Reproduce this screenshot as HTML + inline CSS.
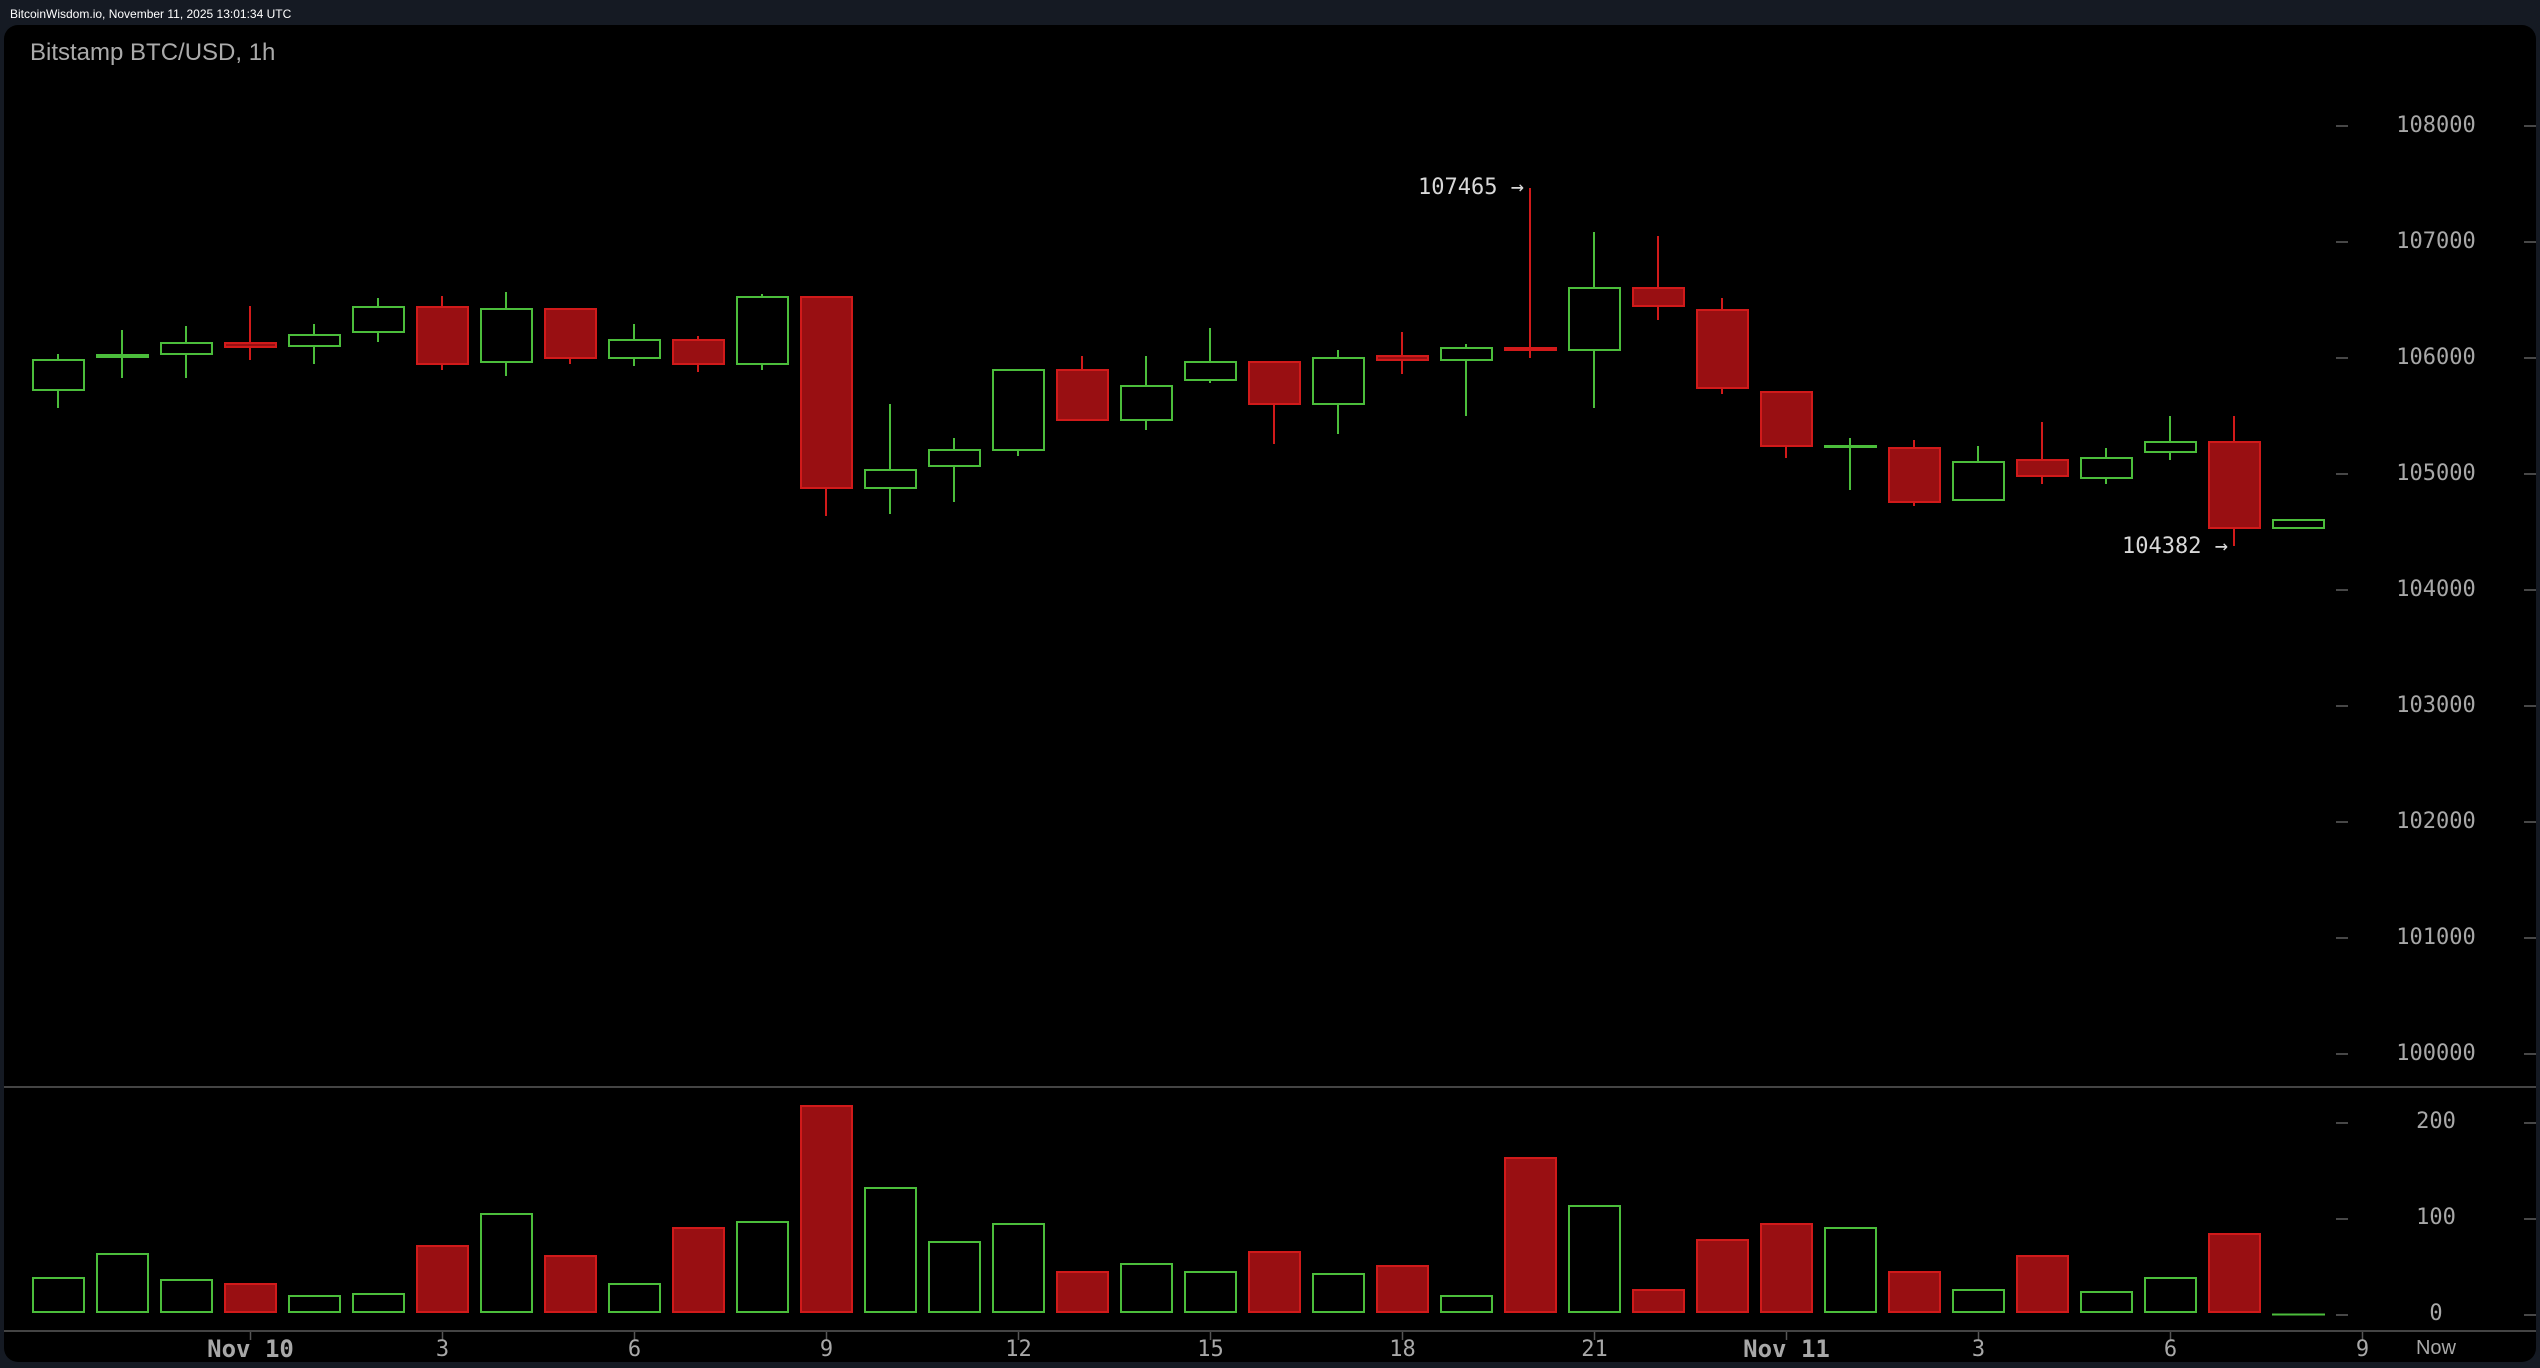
<!DOCTYPE html>
<html><head><meta charset="utf-8"><style>
html,body{margin:0;padding:0;background:#151a23;}
svg{display:block;}
.g{stroke:#4bbd3b;fill:#000;stroke-width:2}
.r{stroke:#d11a1a;fill:#990f12;stroke-width:2}
.gw{stroke:#4bbd3b;stroke-width:2}
.rw{stroke:#d11a1a;stroke-width:2}
.ax{font-family:"DejaVu Sans Mono","Liberation Mono",monospace;font-size:22px;fill:#a8a8a8;text-anchor:middle}
.dt{font-family:"DejaVu Sans Mono","Liberation Mono",monospace;font-size:24px;font-weight:bold;fill:#a8a8a8;text-anchor:middle}
.an{font-family:"DejaVu Sans Mono","Liberation Mono",monospace;font-size:22px;fill:#d8d8d8;text-anchor:end}
.tk{stroke:#474747;stroke-width:2}
</style></head><body>
<svg width="2540" height="1368" viewBox="0 0 2540 1368" xmlns="http://www.w3.org/2000/svg">
<rect x="0" y="0" width="2540" height="1368" fill="#151a23"/>
<text x="10" y="18" font-family="Liberation Sans, Arial, sans-serif" font-size="12" fill="#ffffff">BitcoinWisdom.io, November 11, 2025 13:01:34 UTC</text>
<rect x="4" y="25" width="2532" height="1337" rx="14" ry="14" fill="#000"/>
<text x="30" y="60" font-family="Liberation Sans, Arial, sans-serif" font-size="24" fill="#aaaaaa">Bitstamp BTC/USD, 1h</text>

<!-- price axis ticks -->
<g class="tk">
<line x1="2336" x2="2348" y1="126" y2="126"/><line x1="2524" x2="2536" y1="126" y2="126"/>
<line x1="2336" x2="2348" y1="242" y2="242"/><line x1="2524" x2="2536" y1="242" y2="242"/>
<line x1="2336" x2="2348" y1="358" y2="358"/><line x1="2524" x2="2536" y1="358" y2="358"/>
<line x1="2336" x2="2348" y1="474" y2="474"/><line x1="2524" x2="2536" y1="474" y2="474"/>
<line x1="2336" x2="2348" y1="590" y2="590"/><line x1="2524" x2="2536" y1="590" y2="590"/>
<line x1="2336" x2="2348" y1="706" y2="706"/><line x1="2524" x2="2536" y1="706" y2="706"/>
<line x1="2336" x2="2348" y1="822" y2="822"/><line x1="2524" x2="2536" y1="822" y2="822"/>
<line x1="2336" x2="2348" y1="938" y2="938"/><line x1="2524" x2="2536" y1="938" y2="938"/>
<line x1="2336" x2="2348" y1="1054" y2="1054"/><line x1="2524" x2="2536" y1="1054" y2="1054"/>
<line x1="2336" x2="2348" y1="1123" y2="1123"/><line x1="2524" x2="2536" y1="1123" y2="1123"/>
<line x1="2336" x2="2348" y1="1219" y2="1219"/><line x1="2524" x2="2536" y1="1219" y2="1219"/>
<line x1="2336" x2="2348" y1="1315" y2="1315"/><line x1="2524" x2="2536" y1="1315" y2="1315"/>
</g>
<text class="ax" x="2436" y="132">108000</text>
<text class="ax" x="2436" y="248">107000</text>
<text class="ax" x="2436" y="364">106000</text>
<text class="ax" x="2436" y="480">105000</text>
<text class="ax" x="2436" y="596">104000</text>
<text class="ax" x="2436" y="712">103000</text>
<text class="ax" x="2436" y="828">102000</text>
<text class="ax" x="2436" y="944">101000</text>
<text class="ax" x="2436" y="1060">100000</text>
<text class="ax" x="2436" y="1128">200</text>
<text class="ax" x="2436" y="1224">100</text>
<text class="ax" x="2436" y="1320">0</text>

<!-- separators -->
<line x1="4" x2="2536" y1="1087" y2="1087" stroke="#444" stroke-width="2"/>
<line x1="4" x2="2536" y1="1331" y2="1331" stroke="#444" stroke-width="2"/>

<!-- x ticks -->
<g stroke="#555" stroke-width="1.5">
<line x1="250.5" x2="250.5" y1="1332" y2="1340"/>
<line x1="442.5" x2="442.5" y1="1332" y2="1340"/>
<line x1="634.5" x2="634.5" y1="1332" y2="1340"/>
<line x1="826.5" x2="826.5" y1="1332" y2="1340"/>
<line x1="1018.5" x2="1018.5" y1="1332" y2="1340"/>
<line x1="1210.5" x2="1210.5" y1="1332" y2="1340"/>
<line x1="1402.5" x2="1402.5" y1="1332" y2="1340"/>
<line x1="1594.5" x2="1594.5" y1="1332" y2="1340"/>
<line x1="1786.5" x2="1786.5" y1="1332" y2="1340"/>
<line x1="1978.5" x2="1978.5" y1="1332" y2="1340"/>
<line x1="2170.5" x2="2170.5" y1="1332" y2="1340"/>
<line x1="2362.5" x2="2362.5" y1="1332" y2="1340"/>
</g>
<text class="dt" x="250.5" y="1357">Nov 10</text>
<text class="ax" x="442.5" y="1356">3</text>
<text class="ax" x="634.5" y="1356">6</text>
<text class="ax" x="826.5" y="1356">9</text>
<text class="ax" x="1018.5" y="1356">12</text>
<text class="ax" x="1210.5" y="1356">15</text>
<text class="ax" x="1402.5" y="1356">18</text>
<text class="ax" x="1594.5" y="1356">21</text>
<text class="dt" x="1786.5" y="1357">Nov 11</text>
<text class="ax" x="1978.5" y="1356">3</text>
<text class="ax" x="2170.5" y="1356">6</text>
<text class="ax" x="2362.5" y="1356">9</text>
<text x="2436" y="1354" font-family="Liberation Sans, Arial, sans-serif" font-size="20" fill="#a8a8a8" text-anchor="middle">Now</text>

<!-- candles -->
<line class="gw" x1="58" x2="58" y1="354" y2="408"/><rect class="g" x="33" y="360" width="51" height="30"/>
<line class="gw" x1="122" x2="122" y1="330" y2="378"/><rect class="g" x="97" y="355" width="51" height="2"/>
<line class="gw" x1="186" x2="186" y1="326" y2="378"/><rect class="g" x="161" y="343" width="51" height="11"/>
<line class="rw" x1="250" x2="250" y1="306" y2="360"/><rect class="r" x="225" y="343" width="51" height="4"/>
<line class="gw" x1="314" x2="314" y1="324" y2="364"/><rect class="g" x="289" y="335" width="51" height="11"/>
<line class="gw" x1="378" x2="378" y1="298" y2="342"/><rect class="g" x="353" y="307" width="51" height="25"/>
<line class="rw" x1="442" x2="442" y1="296" y2="370"/><rect class="r" x="417" y="307" width="51" height="57"/>
<line class="gw" x1="506" x2="506" y1="292" y2="376"/><rect class="g" x="481" y="309" width="51" height="53"/>
<line class="rw" x1="570" x2="570" y1="308" y2="364"/><rect class="r" x="545" y="309" width="51" height="49"/>
<line class="gw" x1="634" x2="634" y1="324" y2="366"/><rect class="g" x="609" y="340" width="51" height="18"/>
<line class="rw" x1="698" x2="698" y1="336" y2="372"/><rect class="r" x="673" y="340" width="51" height="24"/>
<line class="gw" x1="762" x2="762" y1="294" y2="370"/><rect class="g" x="737" y="297" width="51" height="67"/>
<line class="rw" x1="826" x2="826" y1="296" y2="516"/><rect class="r" x="801" y="297" width="51" height="191"/>
<line class="gw" x1="890" x2="890" y1="404" y2="514"/><rect class="g" x="865" y="470" width="51" height="18"/>
<line class="gw" x1="954" x2="954" y1="438" y2="502"/><rect class="g" x="929" y="450" width="51" height="16"/>
<line class="gw" x1="1018" x2="1018" y1="369" y2="456"/><rect class="g" x="993" y="370" width="51" height="80"/>
<line class="rw" x1="1082" x2="1082" y1="356" y2="421"/><rect class="r" x="1057" y="370" width="51" height="50"/>
<line class="gw" x1="1146" x2="1146" y1="356" y2="430"/><rect class="g" x="1121" y="386" width="51" height="34"/>
<line class="gw" x1="1210" x2="1210" y1="328" y2="383"/><rect class="g" x="1185" y="362" width="51" height="18"/>
<line class="rw" x1="1274" x2="1274" y1="361" y2="444"/><rect class="r" x="1249" y="362" width="51" height="42"/>
<line class="gw" x1="1338" x2="1338" y1="350" y2="434"/><rect class="g" x="1313" y="358" width="51" height="46"/>
<line class="rw" x1="1402" x2="1402" y1="332" y2="374"/><rect class="r" x="1377" y="356" width="51" height="4"/>
<line class="gw" x1="1466" x2="1466" y1="344" y2="416"/><rect class="g" x="1441" y="348" width="51" height="12"/>
<line class="rw" x1="1530" x2="1530" y1="188" y2="358"/><rect class="r" x="1505" y="348" width="51" height="2"/>
<line class="gw" x1="1594" x2="1594" y1="232" y2="408"/><rect class="g" x="1569" y="288" width="51" height="62"/>
<line class="rw" x1="1658" x2="1658" y1="236" y2="320"/><rect class="r" x="1633" y="288" width="51" height="18"/>
<line class="rw" x1="1722" x2="1722" y1="298" y2="394"/><rect class="r" x="1697" y="310" width="51" height="78"/>
<line class="rw" x1="1786" x2="1786" y1="391" y2="458"/><rect class="r" x="1761" y="392" width="51" height="54"/>
<line class="gw" x1="1850" x2="1850" y1="438" y2="490"/><rect class="g" x="1825" y="446" width="51" height="1"/>
<line class="rw" x1="1914" x2="1914" y1="440" y2="506"/><rect class="r" x="1889" y="448" width="51" height="54"/>
<line class="gw" x1="1978" x2="1978" y1="446" y2="501"/><rect class="g" x="1953" y="462" width="51" height="38"/>
<line class="rw" x1="2042" x2="2042" y1="422" y2="484"/><rect class="r" x="2017" y="460" width="51" height="16"/>
<line class="gw" x1="2106" x2="2106" y1="448" y2="484"/><rect class="g" x="2081" y="458" width="51" height="20"/>
<line class="gw" x1="2170" x2="2170" y1="416" y2="460"/><rect class="g" x="2145" y="442" width="51" height="10"/>
<line class="rw" x1="2234" x2="2234" y1="416" y2="546"/><rect class="r" x="2209" y="442" width="51" height="86"/>
<rect class="g" x="2273" y="520" width="51" height="8"/>

<!-- annotations -->
<text class="an" x="1524" y="194">107465 →</text>
<text class="an" x="2228" y="553">104382 →</text>

<!-- volume -->
<rect class="g" x="33" y="1278" width="51" height="34"/>
<rect class="g" x="97" y="1254" width="51" height="58"/>
<rect class="g" x="161" y="1280" width="51" height="32"/>
<rect class="r" x="225" y="1284" width="51" height="28"/>
<rect class="g" x="289" y="1296" width="51" height="16"/>
<rect class="g" x="353" y="1294" width="51" height="18"/>
<rect class="r" x="417" y="1246" width="51" height="66"/>
<rect class="g" x="481" y="1214" width="51" height="98"/>
<rect class="r" x="545" y="1256" width="51" height="56"/>
<rect class="g" x="609" y="1284" width="51" height="28"/>
<rect class="r" x="673" y="1228" width="51" height="84"/>
<rect class="g" x="737" y="1222" width="51" height="90"/>
<rect class="r" x="801" y="1106" width="51" height="206"/>
<rect class="g" x="865" y="1188" width="51" height="124"/>
<rect class="g" x="929" y="1242" width="51" height="70"/>
<rect class="g" x="993" y="1224" width="51" height="88"/>
<rect class="r" x="1057" y="1272" width="51" height="40"/>
<rect class="g" x="1121" y="1264" width="51" height="48"/>
<rect class="g" x="1185" y="1272" width="51" height="40"/>
<rect class="r" x="1249" y="1252" width="51" height="60"/>
<rect class="g" x="1313" y="1274" width="51" height="38"/>
<rect class="r" x="1377" y="1266" width="51" height="46"/>
<rect class="g" x="1441" y="1296" width="51" height="16"/>
<rect class="r" x="1505" y="1158" width="51" height="154"/>
<rect class="g" x="1569" y="1206" width="51" height="106"/>
<rect class="r" x="1633" y="1290" width="51" height="22"/>
<rect class="r" x="1697" y="1240" width="51" height="72"/>
<rect class="r" x="1761" y="1224" width="51" height="88"/>
<rect class="g" x="1825" y="1228" width="51" height="84"/>
<rect class="r" x="1889" y="1272" width="51" height="40"/>
<rect class="g" x="1953" y="1290" width="51" height="22"/>
<rect class="r" x="2017" y="1256" width="51" height="56"/>
<rect class="g" x="2081" y="1292" width="51" height="20"/>
<rect class="g" x="2145" y="1278" width="51" height="34"/>
<rect class="r" x="2209" y="1234" width="51" height="78"/>
<line x1="2272" x2="2325" y1="1314.5" y2="1314.5" stroke="#4bbd3b" stroke-width="2"/>
</svg>
</body></html>
